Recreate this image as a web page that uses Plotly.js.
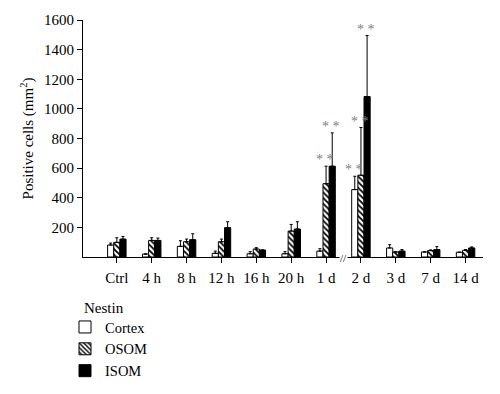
<!DOCTYPE html>
<html>
<head>
<meta charset="utf-8">
<script src="https://cdn.plot.ly/plotly-3.0.1.min.js"></script>
<style>html,body{margin:0;padding:0;background:#fff;}#chart{width:500px;height:394px;}</style>
</head>
<body>
<div id="chart"></div>
<script>
const categories = ['Ctrl','4 h','8 h','12 h','16 h','20 h','1 d','2 d','3 d','7 d','14 d'];
const seriesNames = ['Cortex','OSOM','ISOM'];
const cortex    = [81, 20, 72, 25, 22, 22, 40, 455, 61, 34, 32];
const cortexErr = [13, 0, 38, 15, 14, 14, 16, 90, 22, 0, 0];
const osom      = [99, 112, 103, 103, 54, 175, 495, 552, 34, 43, 45];
const osomErr   = [31, 18, 18, 18, 9, 45, 118, 322, 0, 5, 5];
const isom      = [121, 112, 117, 198, 47, 189, 613, 1083, 40, 50, 61];
const isomErr   = [18, 16, 40, 40, 0, 49, 225, 412, 10, 20, 7];
const yTicks = [200, 400, 600, 800, 1000, 1200, 1400, 1600];
const legendTitle = 'Nestin';
// significance markers: [category, series index]
const significant = [['1 d',1],['1 d',2],['2 d',0],['2 d',1],['2 d',2]];
const breakBetween = ['1 d','2 d'];

const values = [cortex, osom, isom];
const errors = [cortexErr, osomErr, isomErr];
const FONT = 'Liberation Serif, Times New Roman, serif';
const FS = 15;
const bargap = 0.47;
const barW = (1 - bargap) / 3;

const styles = [
  {color:'white', line:{color:'black', width:1}},
  {color:'white', line:{color:'black', width:1}, pattern:{shape:'\\', fgcolor:'black', bgcolor:'white', size:4, solidity:0.45}},
  {color:'black', line:{color:'black', width:1}}
];

const traces = seriesNames.map((name, i) => ({
  type:'bar', name:name, x:categories, y:values[i],
  marker: styles[i],
  error_y:{type:'data', array:errors[i], arrayminus:errors[i].map(()=>0), symmetric:false, color:'black', thickness:1, width:1.5, visible:true},
  hoverinfo:'none'
}));

const annotations = significant.map(([cat, s]) => {
  const idx = categories.indexOf(cat);
  return {
    x: idx + (s - 1) * barW, y: values[s][idx] + errors[s][idx],
    xref:'x', yref:'y', text:'* *', showarrow:false, yanchor:'bottom', yshift:-3, xshift:-1,
    font:{family:FONT, size:14, color:'#808080'}
  };
});
annotations.push({
  x:(categories.indexOf(breakBetween[0]) + categories.indexOf(breakBetween[1]))/2, y:0,
  xref:'x', yref:'y', text:'//', showarrow:false, bgcolor:'white',
  font:{family:FONT, size:11, color:'black'}, borderpad:0, yshift:-1
});
annotations.push({
  x:-0.0025, y:-0.215, xref:'paper', yref:'paper', xanchor:'left', yanchor:'middle',
  text:legendTitle, showarrow:false, font:{family:FONT, size:FS, color:'black'}
});

const layout = {
  width:500, height:394,
  margin:{l:83, r:17, t:20, b:137, autoexpand:false},
  paper_bgcolor:'white', plot_bgcolor:'white',
  font:{family:FONT, size:FS, color:'black'},
  barmode:'group', bargap:bargap, bargroupgap:0,
  showlegend:true,
  legend:{
    x:-0.045, xanchor:'left', y:-0.228, yanchor:'top',
    font:{family:FONT, size:14.5}, tracegroupgap:0, bgcolor:'rgba(0,0,0,0)'
  },
  xaxis:{
    type:'category', range:[-0.97, 10.5],
    showline:true, linecolor:'black', linewidth:1,
    ticks:'outside', ticklen:5, tickcolor:'black',
    showgrid:false, zeroline:false,
    tickfont:{family:FONT, size:FS}, ticklabelstandoff:2
  },
  yaxis:{
    range:[0, 1600], tickvals:yTicks, ticktext:yTicks.map(String),
    showline:true, linecolor:'black', linewidth:1,
    ticks:'outside', ticklen:5, tickcolor:'black',
    showgrid:false, zeroline:false,
    tickfont:{family:FONT, size:FS},
    title:{text:'Positive cells (mm<sup>2</sup>)', font:{family:FONT, size:FS}, standoff:6}
  },
  annotations:annotations
};

Plotly.newPlot('chart', traces, layout, {displayModeBar:false, staticPlot:true});
</script>
</body>
</html>
